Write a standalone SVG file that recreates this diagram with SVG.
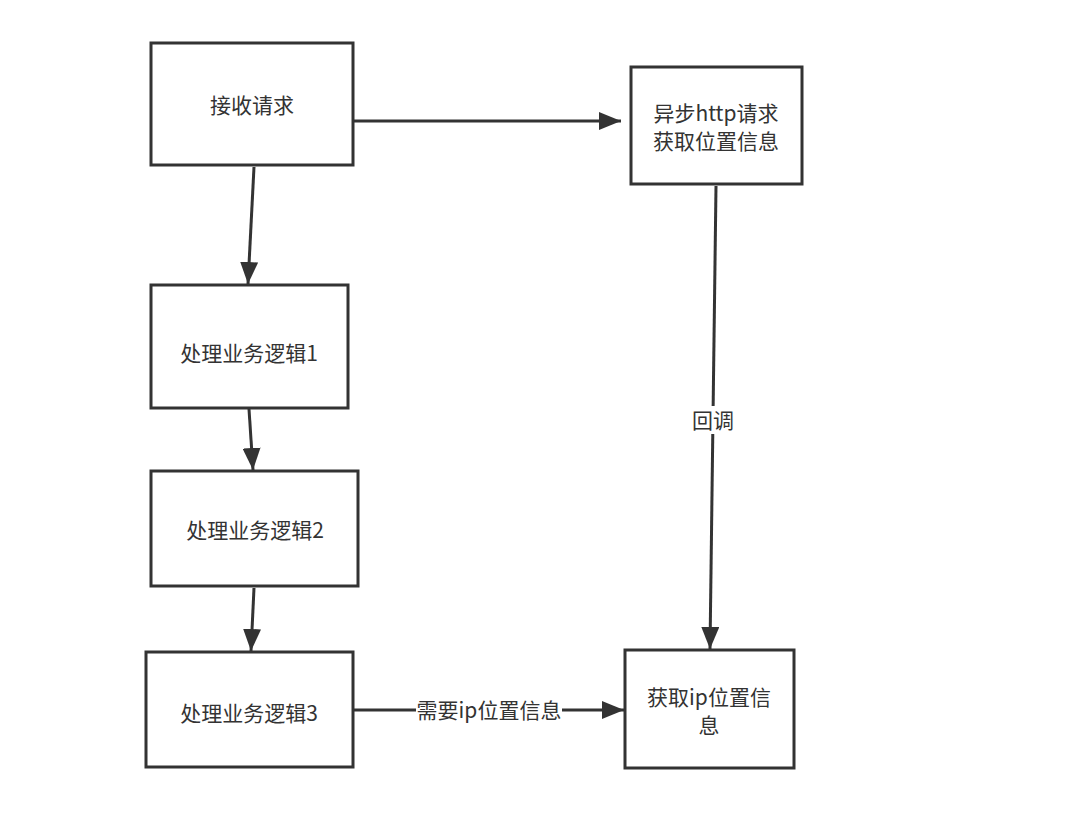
<svg xmlns="http://www.w3.org/2000/svg" width="1080" height="815" viewBox="0 0 1080 815">
<defs>
<marker id="ah" viewBox="0 0 22 18" refX="22" refY="9" markerWidth="22" markerHeight="18" markerUnits="userSpaceOnUse" orient="auto">
<path d="M0,0 L22,9 L0,18 z" fill="#333"/>
</marker>
</defs>
<style>
.box{fill:#fff;stroke:#333;stroke-width:3}
.t{font-family:"Noto Sans CJK SC","Noto Sans",sans-serif;font-size:21px;fill:#333;text-anchor:middle;dominant-baseline:central}
.c{stroke:#333;stroke-width:3;fill:none;marker-end:url(#ah)}
.lbl{fill:#fff}
</style>
<rect width="1080" height="815" fill="#fff"/>
<g id="connectors">
<path class="c" d="M354,121 L621,121"/>
<path class="c" d="M254,167 L248,284"/>
<path class="c" d="M249,409 L253,470"/>
<path class="c" d="M254,588 L251,651"/>
<path class="c" d="M716,186 L710,649"/>
<path class="c" d="M354,710 L624,710"/>
<rect class="lbl" x="691" y="406" width="46" height="28"/>
<text class="t" x="713" y="419">回调</text>
<rect class="lbl" x="416" y="696" width="146" height="28"/>
<text class="t" x="489" y="709">需要ip位置信息</text>
</g>
<g id="n1"><rect class="box" x="151" y="43" width="202" height="122"/><text class="t" x="252" y="104">接收请求</text></g>
<g id="n2"><rect class="box" x="631" y="67" width="171" height="117"/><text class="t" x="716" y="112">异步http请求<tspan x="716" dy="28">获取位置信息</tspan></text></g>
<g id="n3"><rect class="box" x="151" y="285" width="197" height="123"/><text class="t" x="249" y="352">处理业务逻辑1</text></g>
<g id="n4"><rect class="box" x="151" y="471" width="207" height="115"/><text class="t" x="255" y="529">处理业务逻辑2</text></g>
<g id="n5"><rect class="box" x="146" y="652" width="207" height="115"/><text class="t" x="249" y="712">处理业务逻辑3</text></g>
<g id="n6"><rect class="box" x="625" y="650" width="169" height="118"/><text class="t" x="709" y="696">获取ip位置信<tspan x="709" dy="28">息</tspan></text></g>
</svg>
